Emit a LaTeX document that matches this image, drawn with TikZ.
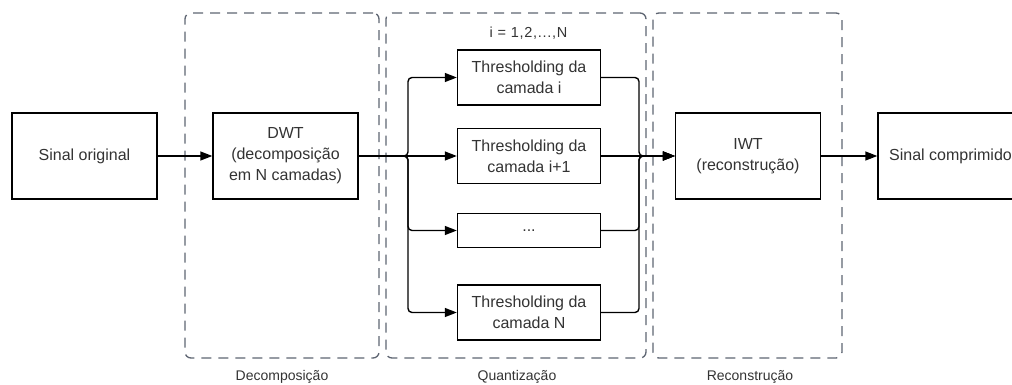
\documentclass[tikz,border=0pt]{standalone}
\usepackage{fontspec}
\setmainfont{Liberation Sans}
\usetikzlibrary{arrows.meta}
\definecolor{txt}{HTML}{333333}
\definecolor{grpc}{HTML}{5E6572}
\begin{document}
\begin{tikzpicture}[x=1pt,y=-1pt,
  box/.style={draw=black, line width=1.4pt, fill=white, minimum width=145pt, minimum height=86pt,
    align=center, text=txt, font=\fontsize{16}{21}\selectfont, inner sep=0pt},
  tbox/.style={box, minimum width=143pt, minimum height=55pt},
  sbox/.style={box, minimum width=143pt, minimum height=34pt},
  grp/.style={draw=grpc, line width=1.3pt, dash pattern=on 10pt off 7pt, rounded corners=6pt, inner sep=0pt},
  lab/.style={text=txt, font=\fontsize{14}{16}\selectfont, inner sep=0pt},
  conn/.style={draw=black, line width=1.4pt, rounded corners=4pt},
  arr/.style={conn, -{Triangle[length=12pt,width=9pt]}}
]
\useasboundingbox (0,0) rectangle (1012,385);
% groups
\node[grp, minimum width=194pt, minimum height=345pt] (g1) at (282,185.5) {};
\node[grp, minimum width=260pt, minimum height=345pt] (g2) at (516,185.5) {};
\node[grp, minimum width=189pt, minimum height=345pt] (g3) at (747.5,185.5) {};
\node[lab, anchor=base] (l1) at (282,380) {Decomposição};
\node[lab, anchor=base] (l2) at (517,380) {Quantização};
\node[lab, anchor=base] (l3) at (750,380) {Reconstrução};
\node[text=txt, font=\fontsize{14.5}{16}\selectfont\addfontfeature{LetterSpace=5}, inner sep=0pt, anchor=base] (idx) at (528.5,37.5) {i = 1,2,...,N};
% boxes
\node[box] (src) at (84.5,156) {Sinal original};
\node[box] (dwt) at (285.5,156) {DWT\\(decomposição\\em N camadas)};
\node[tbox] (t1) at (529,77.5) {Thresholding da\\camada i};
\node[tbox] (t2) at (529,156) {Thresholding da\\camada i+1};
\node[sbox] (t3) at (529,230.5) {...};
\node[tbox] (t4) at (529,312.5) {Thresholding da\\camada N};
\node[box] (iwt) at (748,156) {IWT\\(reconstrução)};
\node[box] (out) at (950.5,156) {Sinal comprimido};
% junction coordinates
\coordinate (bx) at (408,156);
\coordinate (mx) at (639,156);
% connectors
\draw[arr] (src) -- (dwt);
\draw[arr] (dwt.east) -- (bx) |- (t1.west);
\draw[arr] (dwt.east) -- (t2.west);
\draw[arr] (dwt.east) -- (bx) |- (t3.west);
\draw[arr] (dwt.east) -- (bx) |- (t4.west);
\draw[arr] (t1.east) -| (mx) -- (iwt.west);
\draw[arr] (t2.east) -- (iwt.west);
\draw[arr] (t3.east) -| (mx) -- (iwt.west);
\draw[arr] (t4.east) -| (mx) -- (iwt.west);
\draw[arr] (iwt) -- (out);
\end{tikzpicture}
\end{document}
